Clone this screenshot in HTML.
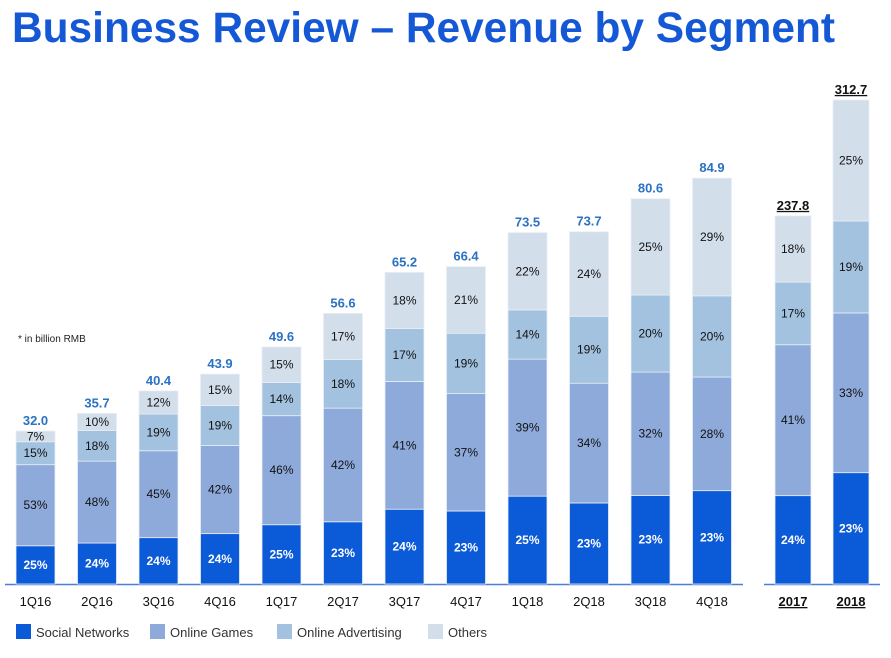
<!DOCTYPE html>
<html><head><meta charset="utf-8"><style>
body{margin:0;background:#fff;}
svg{display:block;font-family:"Liberation Sans",Arial,sans-serif;}
</style></head><body>
<svg id="chart" width="891" height="658" viewBox="0 0 891 658">
<text x="12" y="42" font-size="43" font-weight="bold" fill="#1558d6" textLength="823" lengthAdjust="spacingAndGlyphs">Business Review – Revenue by Segment</text>
<text x="18" y="342" font-size="10" fill="#222">* in billion RMB</text>
<line x1="5" y1="584.5" x2="743" y2="584.5" stroke="#4a7fd8" stroke-width="1.5"/>
<line x1="764" y1="584.5" x2="880" y2="584.5" stroke="#4a7fd8" stroke-width="1.5"/>
<g id="bars"></g>
<g>
<g><rect x="16" y="624" width="15" height="15" fill="#0b5ad8"/><text x="36" y="637" font-size="13" fill="#333">Social Networks</text></g>
<g><rect x="150" y="624" width="15" height="15" fill="#8eaadb"/><text x="170" y="637" font-size="13" fill="#333">Online Games</text></g>
<g><rect x="277" y="624" width="15" height="15" fill="#a3c2df"/><text x="297" y="637" font-size="13" fill="#333">Online Advertising</text></g>
<g><rect x="428" y="624" width="15" height="15" fill="#d3deeb"/><text x="448" y="637" font-size="13" fill="#333">Others</text></g>
</g>
</svg>
<script>
const quarters = ["1Q16","2Q16","3Q16","4Q16","1Q17","2Q17","3Q17","4Q17","1Q18","2Q18","3Q18","4Q18"];
const quarterTotals = [32.0,35.7,40.4,43.9,49.6,56.6,65.2,66.4,73.5,73.7,80.6,84.9];
const qSocial = [25,24,24,24,25,23,24,23,25,23,23,23];
const qGames = [53,48,45,42,46,42,41,37,39,34,32,28];
const qAdvert = [15,18,19,19,14,18,17,19,14,19,20,20];
const qOthers = [7,10,12,15,15,17,18,21,22,24,25,29];
const years = ["2017","2018"];
const yearTotals = [237.8,312.7];
const ySocial = [24,23];
const yGames = [41,33];
const yAdvert = [17,19];
const yOthers = [18,25];

const NS = "http://www.w3.org/2000/svg";
const g = document.getElementById("bars");
const base = 584;
const colors = ["#0b5ad8","#8eaadb","#a3c2df","#d3deeb"];
const segNames = ["social-networks","online-games","online-advertising","others"];
function qx(i){ return 16 + i*61.5; }
function qy(v){ return v*4.78; }
function ax(i){ return 775 + i*58; }
function ay(v){ return v*1.548; }
function mk(tag, attrs){ const e=document.createElementNS(NS,tag); for(const k in attrs) e.setAttribute(k,attrs[k]); g.appendChild(e); return e; }

function drawBar(label, total, shares, x, w, h, annual){
  let y = base;
  shares.forEach((s, k) => {
    const sh = h * s / 100;
    const r = mk("rect",{x:x,y:y-sh,width:w,height:sh,fill:colors[k],stroke:"#e8eef8","stroke-width":0.8});
    
    
    const t = mk("text",{x:x+w/2,y:y-sh/2+4,"text-anchor":"middle","font-size":12,fill:k===0?"#fff":"#111","font-weight":k===0?"bold":"normal"});
    t.textContent = s + "%";
    
    
    y -= sh;
  });
  const tt = mk("text",{x:x+w/2,y:base-h-6,"text-anchor":"middle","font-size":13,"font-weight":"bold",fill:annual?"#111":"#2a72c4","text-decoration":annual?"underline":"none"});
  tt.textContent = total.toFixed(1);
  
  
  const xl = mk("text",{x:x+w/2,y:606,"text-anchor":"middle","font-size":13,fill:"#111","font-weight":annual?"bold":"normal","text-decoration":annual?"underline":"none"});
  xl.textContent = label;
  
  
}
quarters.forEach((q,i) => drawBar(q, quarterTotals[i], [qSocial[i],qGames[i],qAdvert[i],qOthers[i]], qx(i), 39, qy(quarterTotals[i]), false));
years.forEach((yr,i) => drawBar(yr, yearTotals[i], [ySocial[i],yGames[i],yAdvert[i],yOthers[i]], ax(i), 36, ay(yearTotals[i]), true));
</script>
</body></html>
